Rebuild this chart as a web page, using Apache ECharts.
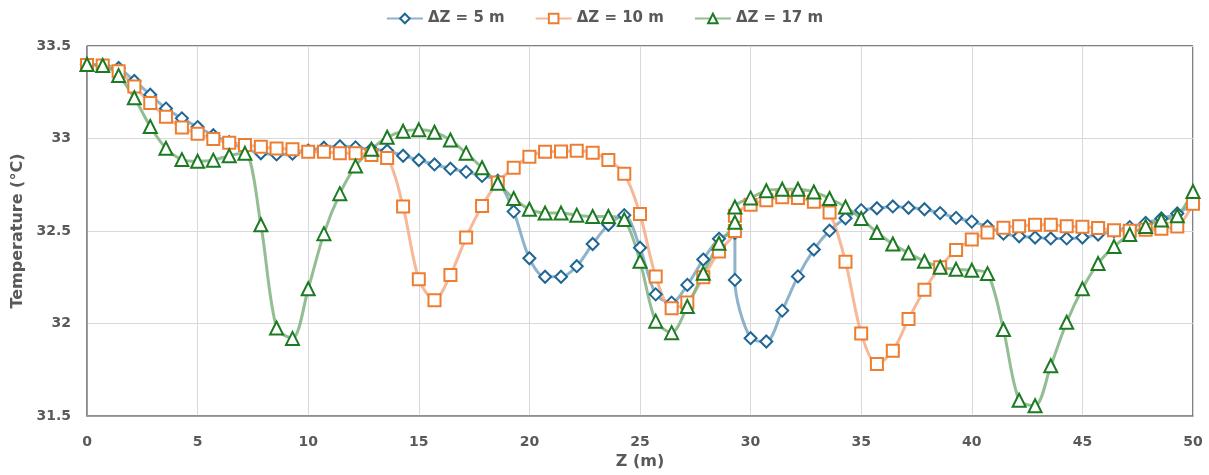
<!DOCTYPE html>
<html>
<head>
<meta charset="utf-8">
<script src="https://cdn.jsdelivr.net/npm/echarts@6/dist/echarts.min.js"></script>
<style>
  html, body { margin: 0; padding: 0; background: #fff; }
  #chart { width: 1209px; height: 475px; }
</style>
</head>
<body>
<div id="chart"></div>
<script>
// Z positions (m); the point at 29.29 appears twice in the source data
var zPos = [0, 0.71, 1.43, 2.14, 2.86, 3.57, 4.29, 5, 5.71, 6.43, 7.14, 7.86, 8.57, 9.29,
  10, 10.71, 11.43, 12.14, 12.86, 13.57, 14.29, 15, 15.71, 16.43, 17.14, 17.86, 18.57, 19.29,
  20, 20.71, 21.43, 22.14, 22.86, 23.57, 24.29, 25, 25.71, 26.43, 27.14, 27.86, 28.57, 29.29, 29.29,
  30, 30.71, 31.43, 32.14, 32.86, 33.57, 34.29, 35, 35.71, 36.43, 37.14, 37.86, 38.57, 39.29,
  40, 40.71, 41.43, 42.14, 42.86, 43.57, 44.29, 45, 45.71, 46.43, 47.14, 47.86, 48.57, 49.29, 50];

var t5 = [33.40, 33.395, 33.381, 33.311, 33.237, 33.162, 33.109, 33.062, 33.018, 32.98, 32.945, 32.92, 32.914, 32.918,
  32.935, 32.95, 32.958, 32.952, 32.942, 32.934, 32.907, 32.884, 32.86, 32.837, 32.82, 32.798, 32.772, 32.605,
  32.353, 32.253, 32.253, 32.31, 32.43, 32.534, 32.586, 32.41, 32.158, 32.113, 32.209, 32.346, 32.458, 32.49, 32.236,
  31.921, 31.903, 32.07, 32.255, 32.4, 32.502, 32.569, 32.613, 32.623, 32.633, 32.626, 32.618, 32.597, 32.571,
  32.551, 32.525, 32.486, 32.472, 32.465, 32.46, 32.46, 32.465, 32.481, 32.5, 32.521, 32.544, 32.568, 32.595, 32.65];

var t10 = [33.398, 33.395, 33.363, 33.281, 33.192, 33.118, 33.06, 33.026, 32.998, 32.977, 32.965, 32.955, 32.946, 32.942,
  32.928, 32.928, 32.921, 32.921, 32.911, 32.895, 32.632, 32.24, 32.126, 32.262, 32.465, 32.635, 32.762, 32.842,
  32.902, 32.928, 32.93, 32.934, 32.923, 32.884, 32.81, 32.592, 32.255, 32.083, 32.114, 32.25, 32.39, 32.5, 32.583,
  32.642, 32.667, 32.683, 32.679, 32.658, 32.6, 32.334, 31.947, 31.781, 31.853, 32.025, 32.183, 32.305, 32.397,
  32.454, 32.492, 32.518, 32.526, 32.534, 32.534, 32.526, 32.523, 32.516, 32.504, 32.502, 32.507, 32.513, 32.525, 32.647];

var t17 = [33.40, 33.395, 33.34, 33.22, 33.065, 32.947, 32.886, 32.877, 32.883, 32.907, 32.92, 32.534, 31.976, 31.92,
  32.188, 32.486, 32.702, 32.851, 32.942, 33.007, 33.039, 33.047, 33.034, 32.992, 32.921, 32.842, 32.758, 32.676,
  32.618, 32.597, 32.597, 32.586, 32.579, 32.579, 32.562, 32.337, 32.013, 31.951, 32.092, 32.272, 32.434, 32.547, 32.63,
  32.679, 32.718, 32.726, 32.726, 32.711, 32.676, 32.63, 32.568, 32.492, 32.43, 32.381, 32.337, 32.305, 32.293,
  32.288, 32.27, 31.968, 31.586, 31.556, 31.772, 32.007, 32.188, 32.325, 32.416, 32.481, 32.525, 32.56, 32.583, 32.714];

var yTicks = [31.5, 32, 32.5, 33, 33.5];

function pairs(vals) {
  return zPos.map(function (z, i) { return [z, vals[i]]; });
}

var txt = '#595959';
var font = 'DejaVu Sans';

var chart = echarts.init(document.getElementById('chart'));
chart.setOption({
  backgroundColor: '#fff',
  animation: false,
  legend: {
    top: 6,
    left: 'center',
    itemWidth: 36,
    itemHeight: 12,
    itemGap: 30,
    textStyle: { color: txt, fontFamily: font, fontWeight: 'bold', fontSize: 15 }
  },
  grid: {
    left: 87, right: 16, top: 46, bottom: 49,
    show: true, borderColor: '#000', borderWidth: 1
  },
  xAxis: {
    type: 'value',
    min: 0, max: 50, interval: 5,
    name: 'Z (m)',
    nameLocation: 'middle',
    nameGap: 37,
    nameTextStyle: { color: txt, fontFamily: font, fontWeight: 'bold', fontSize: 16 },
    axisLine: { lineStyle: { color: '#8c8c8c', width: 1.5 } },
    axisTick: { show: false },
    axisLabel: { color: txt, fontFamily: font, fontWeight: 'bold', fontSize: 14, margin: 19 },
    splitLine: { lineStyle: { color: '#d9d9d9', width: 1 } }
  },
  yAxis: {
    type: 'value',
    min: 31.5, max: 33.5, interval: 0.5,
    name: 'Temperature (°C)',
    nameLocation: 'middle',
    nameGap: 61,
    nameTextStyle: { color: txt, fontFamily: font, fontWeight: 'bold', fontSize: 16 },
    axisLine: { show: true, lineStyle: { color: '#8c8c8c', width: 1.5 } },
    axisTick: { show: false },
    axisLabel: {
      color: txt, fontFamily: font, fontWeight: 'bold', fontSize: 14, margin: 16,
      formatter: function (v) { return yTicks.indexOf(v) >= 0 ? String(v) : ''; }
    },
    splitLine: { lineStyle: { color: '#d9d9d9', width: 1 } }
  },
  series: [
    {
      name: 'ΔZ = 5 m',
      type: 'line',
      smooth: 0.3,
      data: pairs(t5),
      symbol: 'diamond',
      symbolSize: 12,
      lineStyle: { color: 'rgba(115,160,190,0.8)', width: 3 },
      itemStyle: { color: '#fff', borderColor: '#1f6694', borderWidth: 2 }
    },
    {
      name: 'ΔZ = 10 m',
      type: 'line',
      smooth: 0.3,
      data: pairs(t10),
      symbol: 'rect',
      symbolSize: 12,
      lineStyle: { color: 'rgba(244,172,134,0.85)', width: 3 },
      itemStyle: { color: '#fff', borderColor: '#ed7d31', borderWidth: 2 }
    },
    {
      name: 'ΔZ = 17 m',
      type: 'line',
      smooth: 0.3,
      data: pairs(t17),
      symbol: 'triangle',
      symbolSize: 13,
      lineStyle: { color: 'rgba(128,178,128,0.85)', width: 3 },
      itemStyle: { color: '#fff', borderColor: '#1c7a22', borderWidth: 2 }
    }
  ]
});
</script>
</body>
</html>
